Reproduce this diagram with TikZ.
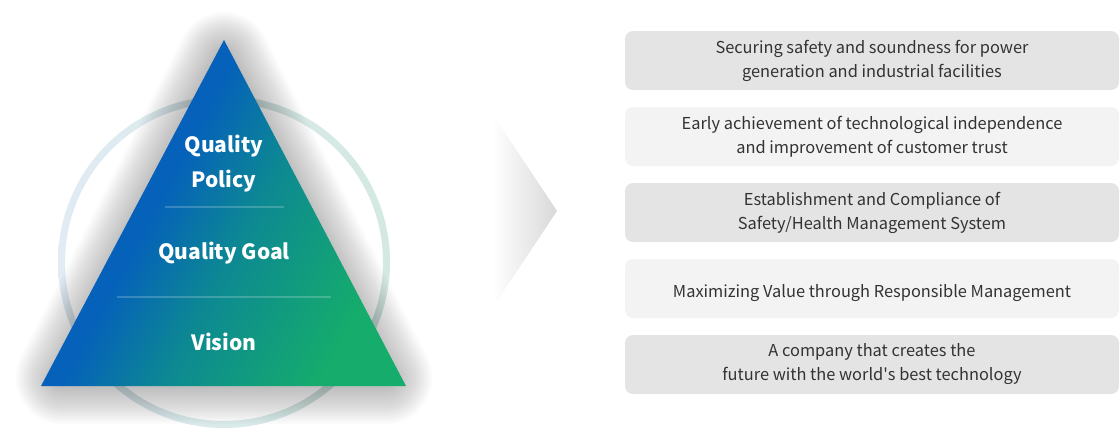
\documentclass[tikz,border=0pt]{standalone}
\usepackage{fontspec}
\setmainfont{Noto Sans CJK KR}
\usetikzlibrary{positioning}
\definecolor{pyramidblue}{HTML}{0561BA}
\definecolor{pyramidteal}{HTML}{0D8992}
\definecolor{pyramidgreen}{HTML}{15AC6C}
\definecolor{ringblue}{HTML}{E0EBF3}
\definecolor{ringgreen}{HTML}{D3E9E2}
\definecolor{chevgray}{HTML}{D8D8D8}
\definecolor{boxdark}{HTML}{E4E4E4}
\definecolor{boxlight}{HTML}{F3F3F3}
\definecolor{boxtext}{HTML}{333333}
\pgfdeclarehorizontalshading{pyramid}{100bp}{color(0bp)=(pyramidblue); color(41bp)=(pyramidblue); color(54bp)=(pyramidteal); color(73bp)=(pyramidgreen); color(100bp)=(pyramidgreen)}

\begin{document}
\begin{tikzpicture}[x=1pt, y=-1pt, node distance = 76pt, on grid,
    goal/.style={rectangle, rounded corners=8pt, minimum width=494pt, minimum height=59pt, inner sep=0pt, align=center, text=boxtext, font=\fontsize{16.4}{24}\selectfont, execute at begin node={\rule{0pt}{21.4pt}}},
    level/.style={text=white, align=center, font=\fontsize{21}{35}\selectfont\bfseries},
    halo/.style={draw=black, fill=none, opacity=0.014, line join=round}]
       \useasboundingbox (0,0) rectangle (1120,434);
       % ring behind the pyramid
       \coordinate (CENTER) at (224,262);
       \path [even odd rule, left color=ringblue, right color=ringgreen] (CENTER) circle [radius=166pt] (CENTER) circle [radius=159pt];
       % pyramid with its soft shadow
       \coordinate (APEX) at (224,40);
       \coordinate (LEFT) at (41,386);
       \coordinate (RIGHT) at (406,386);
       \coordinate (SAPEX) at (224,58);
       \coordinate (SLEFT) at (62,378);
       \coordinate (SRIGHT) at (386,378);
       \foreach \w in {4,8,...,92}
          \draw [halo, line width=\w pt] (SAPEX) -- (SRIGHT) -- (SLEFT) -- cycle;
       \path [shading=pyramid, shading angle=-28] (APEX) -- (RIGHT) -- (LEFT) -- cycle;
       \draw [white, opacity=0.2, line width=1.5pt] (165,207) -- (284,207);
       \draw [white, opacity=0.2, line width=1.5pt] (117,297) -- (331,297);
       \node [level] (POLICY) at (224,164) {Quality\\Policy};
       \node [level] (GOAL) at (224,253.5) {Quality Goal};
       \node [level] (VISION) at (224,341.5) {Vision};
       % chevron
       \path [left color=white, right color=chevgray] (493,115) -- (557,211) -- (493,307) -- cycle;
       % goals
       \node [goal, fill=boxdark] (G1) at (872,60.5) {Securing safety and soundness for power\\generation and industrial facilities};
       \node [goal, fill=boxlight] (G2) [below =of G1] {Early achievement of technological independence\\and improvement of customer trust};
       \node [goal, fill=boxdark] (G3) [below =of G2] {Establishment and Compliance of\\Safety/Health Management System};
       \node [goal, fill=boxlight] (G4) [below =of G3] {Maximizing Value through Responsible Management};
       \node [goal, fill=boxdark] (G5) [below =of G4] {A company that creates the\\future with the world\textquotesingle s best technology};
\end{tikzpicture}
\end{document}
